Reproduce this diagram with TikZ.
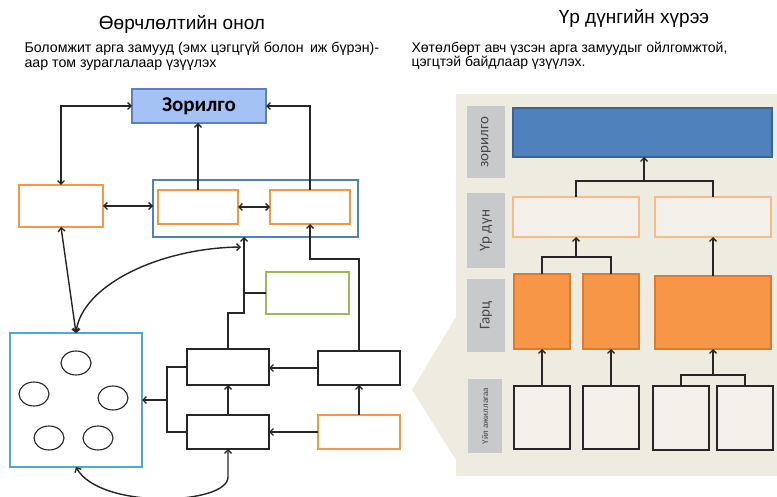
\documentclass[tikz,border=0pt]{standalone}
\usepackage{fontspec}
\setmainfont{Liberation Sans}
\newfontfamily\calfont{Carlito}
\usetikzlibrary{arrows.meta,shadows}

\definecolor{goalfill}{HTML}{A4C2F4}
\definecolor{goalline}{HTML}{5B7FBF}
\definecolor{orangeline}{HTML}{F79646}
\definecolor{groupline}{HTML}{4F81BD}
\definecolor{poolline}{HTML}{4BACC6}
\definecolor{greenline}{HTML}{9BBB59}
\definecolor{panel}{HTML}{EEECE1}
\definecolor{tagfill}{HTML}{C8C9CB}
\definecolor{topfill}{HTML}{4F81BD}
\definecolor{topline}{HTML}{3A6496}
\definecolor{outline}{HTML}{FAB98A}
\definecolor{outfill}{HTML}{F2F0E8}
\definecolor{gfill}{HTML}{F79646}
\definecolor{gline}{HTML}{DC7A30}
\definecolor{ink}{HTML}{262626}

\begin{document}
\begin{tikzpicture}
  [x=1pt, y=-1pt, >={Straight Barb[length=3.5pt,width=7pt]},
    conn/.style={draw=ink, line width=1.4pt},
    box/.style={inner sep=0pt, outer sep=0pt, line width=1.1pt,
      drop shadow={opacity=0.25, shadow xshift=1.2pt, shadow yshift=-1.2pt}},
    goalbox/.style={box, draw=goalline, fill=goalfill},
    obox/.style={box, draw=orangeline, fill=white},
    kbox/.style={box, draw=ink, fill=white, line width=1.3pt},
    tag/.style={inner sep=0pt, fill=tagfill, rotate=90, font=\calfont\fontsize{15}{17}\selectfont, text=ink!85},
  ]
  \useasboundingbox (0,0) rectangle (777,497);

  % Titles
  \node (ttl) at (182,24) {\fontsize{19}{22}\selectfont Өөрчлөлтийн онол};
  \node[anchor=west, align=left, font=\fontsize{14.2}{14.5}\selectfont] (sub) at (21,56)
    {Боломжит арга замууд (эмх цэгцгүй болон\, иж бүрэн)-\\аар том зураглалаар үзүүлэх};
  \node (ttr) at (634,18) {\fontsize{19}{22}\selectfont Үр дүнгийн хүрээ};
  \node[anchor=west, align=left, font=\fontsize{14}{14.5}\selectfont] (subr) at (408,56)
    {Хөтөлбөрт авч үзсэн арга замуудыг ойлгомжтой,\\цэгцтэй байдлаар үзүүлэх.};

  % Theory of change
  \node[goalbox, minimum width=134, minimum height=34] (goal) at (199,106)
    {\calfont\bfseries\fontsize{21}{24}\selectfont Зорилго};
  \node[obox, minimum width=84, minimum height=42] (lbox) at (61,206) {};
  \node[box, draw=groupline, fill=white, minimum width=205, minimum height=57] (grp) at (255.5,208.5) {};
  \node[obox, minimum width=80, minimum height=34] (ba) at (198,207) {};
  \node[obox, minimum width=80, minimum height=34] (bb) at (310,207) {};
  \node[box, draw=poolline, fill=white, minimum width=132, minimum height=134] (pool) at (76,400) {};
  \node[box, draw=greenline, fill=white, minimum width=83, minimum height=42] (green) at (307.5,293) {};
  \node[kbox, minimum width=82, minimum height=36] (m1) at (228,367) {};
  \node[kbox, minimum width=82, minimum height=34] (m2) at (228,432) {};
  \node[kbox, minimum width=82, minimum height=34] (r1) at (359,368) {};
  \node[obox, minimum width=82, minimum height=34] (r2) at (359,432) {};

  % Ideas inside the pool
  \foreach \cx/\cy [count=\i] in {76/363, 34/394, 113/398, 49/438, 98/438}
    \draw[ink, line width=1.1pt, fill=white] (\cx,\cy) ellipse [x radius=15, y radius=12];

  \coordinate (jr) at (359,259);
  \coordinate (jm) at (244,313);
  \coordinate (jc) at (241,247);
  \coordinate (jb) at (167,400);

  % Edges between nodes
  \draw[conn, <->] (goal.west) -| (lbox.north);
  \draw[conn, ->] (ba.north) -- (ba.north |- goal.south);
  \draw[conn, ->] (bb.north) |- (goal.east);
  \draw[conn, <->] (lbox.east) -- (lbox.east -| grp.west);
  \draw[conn, <->] (ba.east) -- (bb.west);
  \draw[conn, ->] (r1.north) -- (jr) -| (bb.south);
  \draw[conn, ->] (m1.north) |- (jm) -- (jm |- grp.south);
  \draw[conn] (green.west) -- (green.west -| jm);
  \draw[conn, <->] (lbox.south) -- (pool.north);
  \draw[conn, <->] (pool.north) .. controls (82,285) and (160,248) .. (jc);
  \draw[conn, ->] (r1.west) -- (r1.west -| m1.east);
  \draw[conn, ->] (r2.west) -- (r2.west -| m2.east);
  \draw[conn, ->] (r2.north) -- (r1.south);
  \draw[conn, ->] (m2.north) -- (m1.south);
  \draw[conn] (m1.west) -| (jb) |- (m2.west);
  \draw[conn, ->] (jb) -- (jb -| pool.east);
  \draw[conn, <->] (m2.south) -- ++(0,28) .. controls (228,505) and (100,510) .. (pool.south);

  % Results framework
  \fill[panel] (456,94) rectangle (777,476);
  \fill[panel] (456,317) -- (412,390) -- (456,460) -- cycle;

  \node[tag, minimum width=72, minimum height=38] (lz) at (486,142) {зорилго};
  \node[tag, minimum width=75, minimum height=38] (lu) at (486,230.5) {Үр дүн};
  \node[tag, minimum width=73, minimum height=38] (lg) at (486,315.5) {Гарц};
  \node[tag, minimum width=74, minimum height=34, font=\calfont\fontsize{9}{10}\selectfont] (la) at (485,416) {Үйл ажиллагаа};

  \node[box, draw=topline, fill=topfill, minimum width=259, minimum height=49] (top) at (642.5,132.5) {};
  \node[box, draw=outline, fill=outfill, minimum width=126, minimum height=40] (ud1) at (576,217) {};
  \node[box, draw=outline, fill=outfill, minimum width=116, minimum height=40] (ud2) at (713,217) {};
  \node[box, draw=gline, fill=gfill, minimum width=56, minimum height=75] (g1) at (542,311.5) {};
  \node[box, draw=gline, fill=gfill, minimum width=56, minimum height=75] (g2) at (611,311.5) {};
  \node[box, draw=gline, fill=gfill, minimum width=116, minimum height=73] (g3) at (713,312.5) {};
  \node[kbox, fill=outfill, minimum width=56, minimum height=63] (a1) at (542,417.5) {};
  \node[kbox, fill=outfill, minimum width=56, minimum height=63] (a2) at (611,417.5) {};
  \node[kbox, fill=outfill, minimum width=56, minimum height=64] (a3) at (681,418) {};
  \node[kbox, fill=outfill, minimum width=56, minimum height=64] (a4) at (745,418) {};

  \coordinate (t1) at (644,181);
  \coordinate (t2) at (576,257);
  \coordinate (t3) at (713,375);

  \draw[conn] (ud1.north) |- (t1) -| (ud2.north);
  \draw[conn, ->] (t1) -- (t1 |- top.south);
  \draw[conn] (g1.north) |- (t2) -| (g2.north);
  \draw[conn, ->] (t2) -- (ud1.south);
  \draw[conn, ->] (g3.north) -- (ud2.south);
  \draw[conn, ->] (a1.north) -- (g1.south);
  \draw[conn, ->] (a2.north) -- (g2.south);
  \draw[conn] (a3.north) |- (t3) -| (a4.north);
  \draw[conn, ->] (t3) -- (g3.south);
\end{tikzpicture}
\end{document}
